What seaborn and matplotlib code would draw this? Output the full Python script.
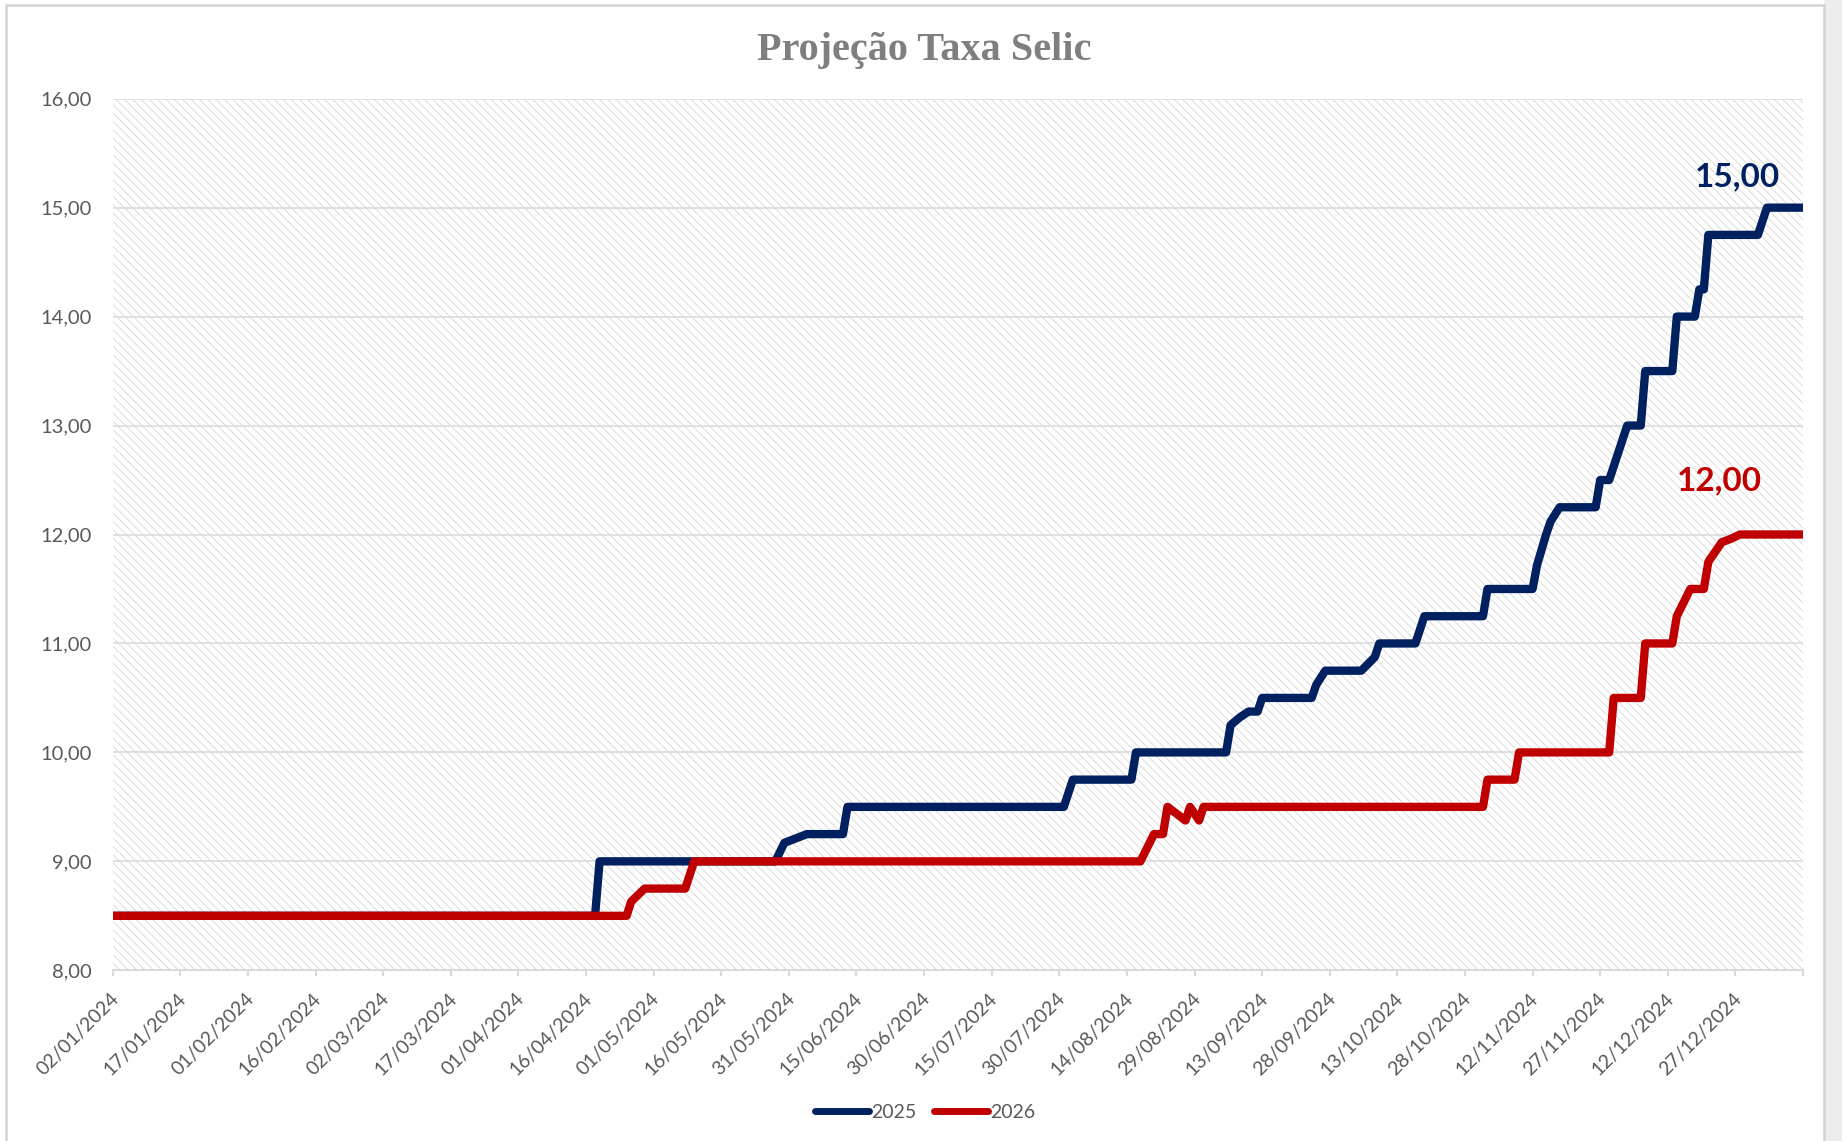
import matplotlib
matplotlib.use("Agg")
import matplotlib.pyplot as plt
import matplotlib.transforms as mtransforms
from matplotlib.patches import Rectangle
from matplotlib.lines import Line2D
import pandas as pd
import seaborn as sns

# ---------------- data ----------------
title = "Projeção Taxa Selic"
series_names = ["2025", "2026"]
series_colors = ["#002060", "#C00000"]

dates_2025 = ["2024-01-02", "2024-04-18", "2024-04-19", "2024-05-28", "2024-05-30",
              "2024-06-04", "2024-06-12", "2024-06-13", "2024-07-31", "2024-08-02",
              "2024-08-15", "2024-08-16", "2024-09-05", "2024-09-06", "2024-09-08",
              "2024-09-10", "2024-09-12", "2024-09-13", "2024-09-24", "2024-09-25",
              "2024-09-27", "2024-10-05", "2024-10-08", "2024-10-09", "2024-10-17",
              "2024-10-19", "2024-11-01", "2024-11-02", "2024-11-12", "2024-11-13",
              "2024-11-15", "2024-11-16", "2024-11-18", "2024-11-26", "2024-11-27",
              "2024-11-29", "2024-12-03", "2024-12-06", "2024-12-07", "2024-12-13",
              "2024-12-14", "2024-12-18", "2024-12-19", "2024-12-20", "2024-12-21",
              "2025-01-01", "2025-01-03", "2025-01-11"]
values_2025 = [8.50, 8.50, 9.00, 9.00, 9.17,
               9.25, 9.25, 9.50, 9.50, 9.75,
               9.75, 10.00, 10.00, 10.25, 10.32,
               10.375, 10.375, 10.50, 10.50, 10.62,
               10.75, 10.75, 10.875, 11.00, 11.00,
               11.25, 11.25, 11.50, 11.50, 11.72,
               12.00, 12.12, 12.25, 12.25, 12.50,
               12.50, 13.00, 13.00, 13.50, 13.50,
               14.00, 14.00, 14.25, 14.25, 14.75,
               14.75, 15.00, 15.00]

dates_2026 = ["2024-01-02", "2024-04-25", "2024-04-26", "2024-04-29", "2024-05-08",
              "2024-05-10", "2024-08-17", "2024-08-20", "2024-08-22", "2024-08-23",
              "2024-08-27", "2024-08-28", "2024-08-30", "2024-08-31", "2024-11-01",
              "2024-11-02", "2024-11-08", "2024-11-09", "2024-11-29", "2024-11-30",
              "2024-12-06", "2024-12-07", "2024-12-13", "2024-12-14", "2024-12-17",
              "2024-12-20", "2024-12-21", "2024-12-24", "2024-12-26", "2024-12-28",
              "2025-01-11"]
values_2026 = [8.50, 8.50, 8.63, 8.75, 8.75,
               9.00, 9.00, 9.25, 9.25, 9.50,
               9.375, 9.50, 9.375, 9.50, 9.50,
               9.75, 9.75, 10.00, 10.00, 10.50,
               10.50, 11.00, 11.00, 11.25, 11.50,
               11.50, 11.75, 11.93, 11.96, 12.00,
               12.00]

end_labels = ["15,00", "12,00"]

x_tick_dates = ["2024-01-02", "2024-01-17", "2024-02-01", "2024-02-16", "2024-03-02",
                "2024-03-17", "2024-04-01", "2024-04-16", "2024-05-01", "2024-05-16",
                "2024-05-31", "2024-06-15", "2024-06-30", "2024-07-15", "2024-07-30",
                "2024-08-14", "2024-08-29", "2024-09-13", "2024-09-28", "2024-10-13",
                "2024-10-28", "2024-11-12", "2024-11-27", "2024-12-12", "2024-12-27",
                "2025-01-11"]
x_tick_labels = ["02/01/2024", "17/01/2024", "01/02/2024", "16/02/2024", "02/03/2024",
                 "17/03/2024", "01/04/2024", "16/04/2024", "01/05/2024", "16/05/2024",
                 "31/05/2024", "15/06/2024", "30/06/2024", "15/07/2024", "30/07/2024",
                 "14/08/2024", "29/08/2024", "13/09/2024", "28/09/2024", "13/10/2024",
                 "28/10/2024", "12/11/2024", "27/11/2024", "12/12/2024", "27/12/2024",
                 ""]
y_ticks = [8, 9, 10, 11, 12, 13, 14, 15, 16]
y_tick_labels = ["8,00", "9,00", "10,00", "11,00", "12,00", "13,00", "14,00", "15,00", "16,00"]

# ---------------- style ----------------
sns.set_theme(style="white")
plt.rcParams["font.family"] = ["Lato", "DejaVu Sans"]
plt.rcParams["hatch.linewidth"] = 0.6

W, H = 1842, 1141
fig = plt.figure(figsize=(W / 100, H / 100), dpi=100)
fig.patch.set_facecolor("white")

ax_left, ax_right, ax_top, ax_bottom = 112.8, 1803.0, 98.7, 970.3
ax = fig.add_axes([ax_left / W, 1 - ax_bottom / H,
                   (ax_right - ax_left) / W, (ax_bottom - ax_top) / H])

# hatched plot area
ax.patch.set_facecolor("white")
ax.patch.set_edgecolor("#d6d6d6")
ax.patch.set_hatch("\\\\\\\\")
ax.patch.set_linewidth(0)

df = pd.concat([
    pd.DataFrame({"data": pd.to_datetime(dates_2025), "valor": values_2025, "serie": series_names[0]}),
    pd.DataFrame({"data": pd.to_datetime(dates_2026), "valor": values_2026, "serie": series_names[1]}),
], ignore_index=True)

palette = dict(zip(series_names, series_colors))
sns.lineplot(data=df, x="data", y="valor", hue="serie", palette=palette,
             estimator=None, sort=False, linewidth=6.0, legend=False, ax=ax,
             solid_capstyle="round", solid_joinstyle="round")

ax.set_xlim(pd.Timestamp(x_tick_dates[0]), pd.Timestamp(x_tick_dates[-1]))
ax.set_ylim(y_ticks[0], y_ticks[-1])
ax.set_xlabel("")
ax.set_ylabel("")

ax.set_yticks(y_ticks)
ax.set_yticklabels(y_tick_labels)
ax.set_xticks(pd.to_datetime(x_tick_dates))
ax.set_xticklabels(x_tick_labels, rotation=45, ha="right", va="center",
                   rotation_mode="anchor")

ax.set_axisbelow(True)
ax.yaxis.grid(True, color="#d9d9d9", linewidth=1.1)
ax.xaxis.grid(False)

for s in ["top", "right", "left"]:
    ax.spines[s].set_visible(False)
ax.spines["bottom"].set_color("#d9d9d9")
ax.spines["bottom"].set_linewidth(1.5)

ax.tick_params(axis="y", length=0, pad=15, labelsize=14.5, labelcolor="#595959")
ax.tick_params(axis="x", length=4.5, width=1.5, color="#d9d9d9", pad=14,
               labelsize=14, labelcolor="#595959", bottom=True)
shift = mtransforms.ScaledTranslation(3 / 100, 0, fig.dpi_scale_trans)
for lab in ax.get_xticklabels():
    lab.set_transform(lab.get_transform() + shift)

# end value labels
label_pos = [(0.961, 0.8998), (0.9503, 0.5511)]
for txt, col, (lx, ly) in zip(end_labels, series_colors, label_pos):
    ax.text(lx, ly, txt, transform=ax.transAxes, ha="center", va="baseline",
            fontsize=24, fontweight="bold", color=col)

# title
fig.text(924 / W, 1 - 60 / H, title, ha="center", va="baseline",
         fontsize=29, fontweight="bold", color="#7f7f7f",
         family=["Liberation Serif", "DejaVu Serif"])

# legend
handles = [Line2D([0], [0], color=c, linewidth=5, solid_capstyle="round")
           for c in series_colors]
fig.legend(handles, series_names, loc="center", bbox_to_anchor=(925 / W, 1 - 1112 / H),
           ncol=2, frameon=False, fontsize=14, labelcolor="#595959",
           handlelength=2.8, handletextpad=0.1, columnspacing=0.9)

# chart-area frame and outside strip
fig.patches.append(Rectangle((1824 / W, 0), (W - 1824) / W, 1,
                             transform=fig.transFigure, facecolor="#ededed",
                             edgecolor="none"))
fig.patches.append(Rectangle((6 / W, -0.02), (1824 - 6) / W, 1.02 - 5 / H,
                             transform=fig.transFigure, fill=False,
                             edgecolor="#d4d4d4", linewidth=1.8))

fig.savefig("out.png", dpi=100)
